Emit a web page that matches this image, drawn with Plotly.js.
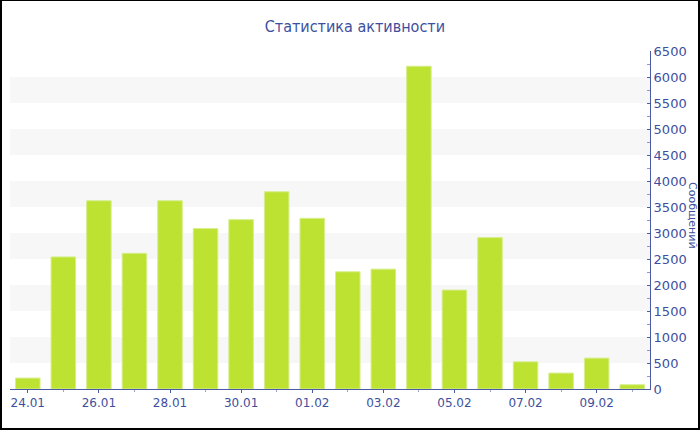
<!DOCTYPE html>
<html>
<head>
<meta charset="utf-8">
<script src="https://cdn.plot.ly/plotly-3.0.1.min.js"></script>
<style>
  html, body { margin: 0; padding: 0; background: #fff; }
  #chart { width: 700px; height: 430px; box-sizing: border-box; border-style: solid; border-color: #000; border-width: 1px 2px 2px 2px; }
</style>
</head>
<body>
<div id="chart"></div>
<script>
const days = ['2024-01-24','2024-01-25','2024-01-26','2024-01-27','2024-01-28','2024-01-29',
              '2024-01-30','2024-01-31','2024-02-01','2024-02-02','2024-02-03','2024-02-04',
              '2024-02-05','2024-02-06','2024-02-07','2024-02-08','2024-02-09','2024-02-10'];
const messages = [210, 2540, 3620, 2610, 3620, 3085, 3257, 3793, 3282, 2255, 2305, 6207,
                  1902, 2912, 523, 306, 594, 82];
const chartTitle = 'Статистика активности';
const yTitle = 'Сообщений';

const textColor = '#3d4f9e';
const axisColor = '#4a5aa6';

const bands = [];
for (let v = 500; v < 6500; v += 1000) {
  bands.push({type: 'rect', xref: 'paper', x0: 0, x1: 1, yref: 'y', y0: v, y1: v + 500,
              fillcolor: '#f7f7f7', line: {width: 0}, layer: 'below'});
}

const data = [{
  type: 'bar',
  x: days,
  y: messages,
  marker: {color: '#bde232', line: {color: '#d6ee8c', width: 1}},
  hoverinfo: 'none'
}];

const layout = {
  width: 696, height: 427,
  margin: {l: 8, r: 48, t: 50, b: 39},
  paper_bgcolor: '#fff',
  plot_bgcolor: 'rgba(0,0,0,0)',
  bargap: 0.31,
  showlegend: false,
  title: {text: chartTitle, x: 0.507, xref: 'container', xanchor: 'center', y: 0.94, yanchor: 'middle',
          font: {family: 'DejaVu Sans Condensed, DejaVu Sans', size: 16, color: textColor}},
  xaxis: {
    type: 'date',
    range: ['2024-01-23 12:00', '2024-02-10 12:00'],
    tick0: '2024-01-24', dtick: 2 * 86400000,
    tickformat: '%d.%m',
    ticks: 'outside', ticklen: 3, tickcolor: axisColor,
    minor: {dtick: 86400000, ticks: 'outside', ticklen: 2, tickcolor: '#9aa3cc'},
    showline: true, linecolor: axisColor, linewidth: 1,
    showgrid: false, zeroline: false,
    tickfont: {family: 'DejaVu Sans', size: 12, color: textColor}
  },
  yaxis: {
    side: 'right',
    range: [0, 6500],
    dtick: 500, tick0: 0,
    ticks: 'inside', ticklen: 3, tickcolor: axisColor,
    minor: {dtick: 250, ticks: 'inside', ticklen: 3, tickcolor: '#8f99c6'},
    showline: true, linecolor: axisColor, linewidth: 1,
    showgrid: false, zeroline: false,
    tickfont: {family: 'DejaVu Sans', size: 13, color: textColor}
  },
  shapes: bands,
  annotations: [{
    text: yTitle, xref: 'paper', yref: 'paper', x: 1, y: 0.5,
    xanchor: 'center', yanchor: 'middle', xshift: 43, yshift: 5,
    textangle: 90, showarrow: false,
    font: {family: 'DejaVu Sans', size: 11, color: textColor}
  }]
};

Plotly.newPlot('chart', data, layout, {displayModeBar: false, staticPlot: true});
</script>
</body>
</html>
